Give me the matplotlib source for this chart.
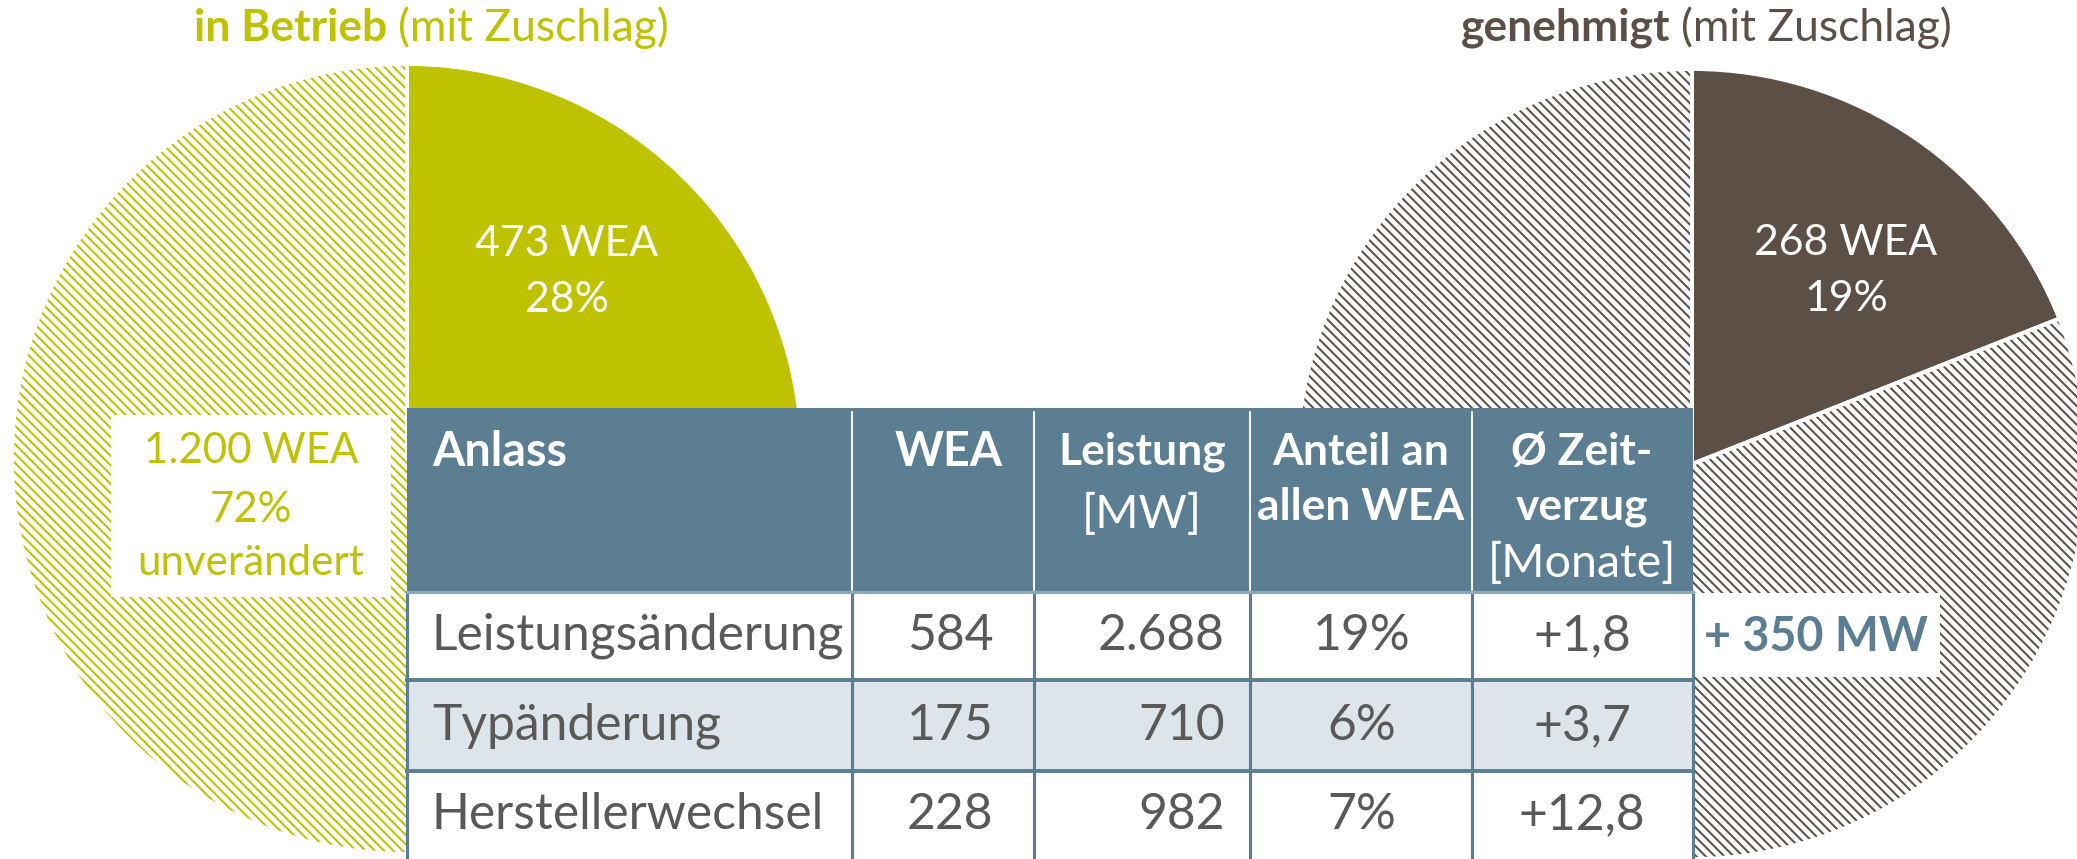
import matplotlib
matplotlib.use("Agg")
import matplotlib.pyplot as plt
from matplotlib.patches import Rectangle

# data
left_counts = [473, 1200]
left_shares = [28, 72]
right_counts = [268]
right_shares = [19, 81]
extra_mw = "+ 350 MW"

header = ["Anlass", "WEA", "Leistung", "Anteil an\nallen WEA", "Ø Zeit-\nverzug"]
header_units = ["", "", "[MW]", "", "[Monate]"]
anlass = ["Leistungsänderung", "Typänderung", "Herstellerwechsel"]
wea = [584, 175, 228]
leistung = ["2.688", "710", "982"]
anteil = ["19%", "6%", "7%"]
zeitverzug = ["+1,8", "+3,7", "+12,8"]

GREEN = "#BFC200"
BROWN = "#5C4F46"
HEAD = "#5B7E93"
ROW2 = "#DDE5EA"
TXT = "#595959"

W, H, DPI = 2077, 859, 112
plt.rcParams["font.family"] = ["Lato", "DejaVu Sans"]
plt.rcParams["hatch.linewidth"] = 1.3

fig = plt.figure(figsize=(W / DPI, H / DPI), dpi=DPI)
ax = fig.add_axes([0, 0, 1, 1])


def Y(y):
    return H - y


R = 395
HATCH = "\\\\\\\\"

# left pie
wl, _ = ax.pie(left_shares, colors=[GREEN, "white"], startangle=90, counterclock=False,
               center=(407, Y(459)), radius=R, wedgeprops=dict(linewidth=0))
wl[1].set_hatch(HATCH)
wl[1].set_edgecolor(GREEN)
wl[1].set_linewidth(0)
ax.pie(left_shares, colors=["none", "none"], startangle=90, counterclock=False,
       center=(407, Y(459)), radius=R, wedgeprops=dict(edgecolor="white", linewidth=2.5))

# right pie
wr, _ = ax.pie(right_shares, colors=[BROWN, "white"], startangle=90, counterclock=False,
               center=(1692, Y(464)), radius=R, wedgeprops=dict(linewidth=0))
wr[1].set_hatch(HATCH)
wr[1].set_edgecolor(BROWN)
wr[1].set_linewidth(0)
ax.pie(right_shares, colors=["none", "none"], startangle=90, counterclock=False,
       center=(1692, Y(464)), radius=R, wedgeprops=dict(edgecolor="white", linewidth=2.5))

ax.set_xlim(0, W)
ax.set_ylim(0, H)
ax.axis("off")

renderer = fig.canvas.get_renderer()


def two_part(xc, y, bold, regular, color, size):
    t1 = ax.text(0, Y(y), bold, weight="bold", color=color, fontsize=size, ha="left", va="center")
    t2 = ax.text(0, Y(y), "(" + regular + ")", color=color, fontsize=size, ha="left", va="center")
    w1 = t1.get_window_extent(renderer).width
    w2 = t2.get_window_extent(renderer).width
    gap = 11
    x0 = xc - (w1 + gap + w2) / 2
    t1.set_x(x0)
    t2.set_x(x0 + w1 + gap)


def lines(x, ys, texts, **kw):
    for y, t in zip(ys, texts):
        ax.text(x, Y(y), t, ha="center", va="center", **kw)


two_part(431, 28, "in Betrieb", "mit Zuschlag", GREEN, 28.5)
two_part(1706, 28, "genehmigt", "mit Zuschlag", BROWN, 28.5)

# pie labels
lines(567, [244, 300], [f"{left_counts[0]} WEA", f"{left_shares[0]}%"], color="white", fontsize=27.5)
lines(1846, [243, 299], [f"{right_counts[0]} WEA", f"{right_shares[0]}%"], color="white", fontsize=27.5)

ax.add_patch(Rectangle((111, Y(597)), 280, 182, facecolor="white", edgecolor="none", zorder=3))
lines(251, [451, 510, 563],
      [f"{left_counts[1]:,} WEA".replace(",", "."), f"{left_shares[1]}%", "unverändert"],
      color=GREEN, fontsize=27, zorder=4)

# table
cols = [407, 852, 1034, 1250, 1472, 1693]
rows = [408, 592, 680, 771, 870]
ax.add_patch(Rectangle((cols[0], Y(rows[1])), cols[-1] - cols[0], rows[1] - rows[0],
                       facecolor=HEAD, edgecolor="none", zorder=5))
for i in range(3):
    fc = ROW2 if i == 1 else "white"
    ax.add_patch(Rectangle((cols[0], Y(rows[i + 2])), cols[-1] - cols[0], rows[i + 2] - rows[i + 1],
                           facecolor=fc, edgecolor="none", zorder=5))
for x in cols[1:-1]:
    ax.plot([x, x], [Y(rows[0] + 4), Y(rows[1])], color="white", lw=1.2, zorder=6)
for x in cols:
    ax.plot([x, x], [Y(rows[1]), Y(rows[-1])], color=HEAD, lw=2, zorder=6)
ax.plot([cols[0], cols[-1]], [Y(rows[1]), Y(rows[1])], color="#8FA8B8", lw=2, zorder=6)
for y in rows[2:4]:
    ax.plot([cols[0], cols[-1]], [Y(y), Y(y)], color=HEAD, lw=2.5, zorder=6)

hy = [452, 507, 563]
hkw = dict(color="white", fontsize=30, zorder=7)
hkw2 = dict(color="white", fontsize=28.5, zorder=7)
ax.text(432, Y(hy[0]), header[0], weight="bold", ha="left", va="center", **hkw)
lines(949, [hy[0]], [header[1]], weight="bold", **hkw)
lines(1142, [hy[0]], [header[2]], weight="bold", **hkw2)
lines(1142, [514], [header_units[2]], **hkw)
lines(1361, hy[:2], header[3].split("\n"), weight="bold", **hkw2)
lines(1582, hy[:2], header[4].split("\n"), weight="bold", **hkw2)
lines(1582, [hy[2]], [header_units[4]], **hkw)

ry = [636, 726, 815]
dkw = dict(color=TXT, fontsize=32, va="center", zorder=7)
for i in range(3):
    y = Y(ry[i])
    ax.text(432, y, anlass[i], ha="left", **dkw)
    ax.text(950, y, str(wea[i]), ha="center", **dkw)
    ax.text(1225, y, leistung[i], ha="right", **dkw)
    ax.text(1362, y, anteil[i], ha="center", **dkw)
    ax.text(1582, y, zeitverzug[i], ha="center", **dkw)

ax.add_patch(Rectangle((1694, Y(677)), 246, 84, facecolor="white", edgecolor="none", zorder=5))
ax.text(1816, Y(637), extra_mw, color=HEAD, weight="bold", fontsize=30, ha="center", va="center", zorder=7)

fig.savefig("out.png", dpi=DPI)
